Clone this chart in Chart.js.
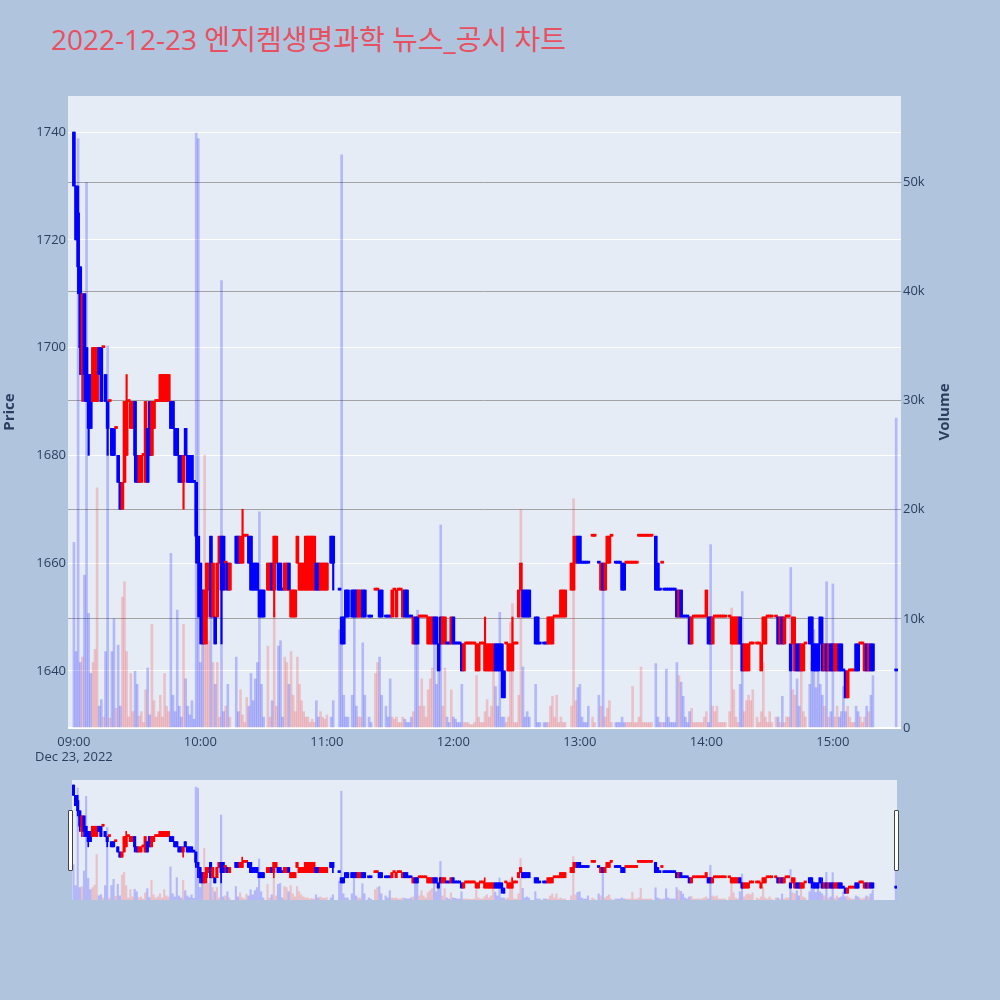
<!DOCTYPE html>
<html>
<head>
<meta charset="utf-8">
<script src="https://cdn.jsdelivr.net/npm/chart.js@4.4.0/dist/chart.umd.min.js"></script>
<style>
  body { margin: 0; background: #b0c4de; width: 1000px; height: 1000px; position: relative; overflow: hidden;
         font-family: "Open Sans", "Noto Sans CJK KR", sans-serif; }
  #title { position: absolute; left: 51px; top: 23px; font-size: 28px; line-height: 32px; color: #e85060; white-space: nowrap; }
  #main { position: absolute; left: 0; top: 0; }
  #slider { position: absolute; left: 72px; top: 780px; }
  .handle { position: absolute; top: 810px; width: 3px; height: 59px; background: #fff; border: 1px solid #444; border-radius: 1px; }
</style>
</head>
<body>
<div id="title">2022-12-23 엔지켐생명과학 뉴스_공시 차트</div>
<canvas id="main" width="957" height="775"></canvas>
<canvas id="slider" width="825" height="120"></canvas>
<div class="handle" style="left:68px"></div>
<div class="handle" style="left:894px"></div>
<script>
// one entry per minute from 09:00 (index 0) to 15:30 (index 390); null = no trade
const opens = [
  1740,1730,1725,1715,1695,1710,1700,1695,1695,1690, // 0
  1695,1690,1700,1700,1700,1695,1690,1690,1685,1685,
  1685,1680,1675,1670,1675,1680,1690,1685,1685,1690,
  1680,1675,1675,1680,1675,1685,1690,1680,1685,1690,
  1690,1690,1690,1690,1690,1690,1690,1690,1685,1685,
  1680,1680,1675,1685,1680,1680,1680,1675,1675,1665,
  1660,1655,1645,1650,1655,1665,1650,1650,1650,1660, // 60
  1665,1665,1660,1660,1655,null,null,1665,1665,1660,
  1660,1665,1665,1665,1665,1660,1660,1660,1655,1655,
  1655,null,1655,1655,1660,1655,1660,1660,1660,1655,
  1655,1655,1660,1650,1650,1650,1660,1655,1655,1655,
  1655,1655,1655,1655,1655,1660,1660,1655,1655,1655,
  1655,null,1665,1665,null,null,1655,1650,1650,1655, // 120
  1655,null,1655,1655,1655,1650,1650,1655,1655,null,
  1650,1650,null,1655,1655,1655,1655,null,1650,1650,
  1650,1650,1655,1650,1655,1655,1650,1655,1655,1650,
  1650,1645,1650,1650,1650,1650,1650,1650,1645,1645,
  1645,1650,1650,1645,1650,1645,1645,1645,1645,1645,
  1650,1645,1645,1645,1645,1640,1645,1645,1645,1645, // 180
  1645,1640,1640,1645,1645,1640,1640,1640,1640,1640,
  1645,1645,1645,1645,1640,1645,1640,1640,1640,1645,
  1645,1650,1655,1655,1655,1655,1655,null,null,1650,
  1650,1645,null,1645,1645,1645,1645,1645,1650,1650,
  1650,1650,1650,1650,null,null,1655,1655,1660,1665,
  1665,1660,1660,1660,1660,null,1665,1665,null,1660, // 240
  1655,1660,1655,1660,1660,1665,null,1660,1660,1660,
  1660,1660,1660,1660,1660,1660,1660,1660,1665,1665,
  1665,1665,1665,1665,1665,null,1665,1660,1655,1660,
  1655,1655,1655,1655,1655,1655,1655,1650,1655,1650,
  1650,1650,1650,1645,1650,1650,1650,1650,1650,1650,
  1650,1650,1650,1645,1650,1650,1650,1650,1650,1650, // 300
  null,1650,1645,1645,1645,1645,1650,1645,1640,1640,
  1640,1645,1645,null,1645,1645,1640,1645,1645,1650,
  1650,1650,null,1650,1650,1645,1650,1645,1650,1650,
  1645,1645,1640,1645,1645,1640,1640,1645,null,1650,
  1650,1645,1645,1645,1650,1645,1640,1645,1640,1645,
  1645,1640,1640,1645,1645,1640,1640,1635,1640,1640, // 360
  1640,1645,1645,1645,1645,1640,1645,1640,1645,1645,
  null,null,null,null,null,null,null,null,null,null,
  1640
];
const highs = [
  1740,1730,1730,1715,1710,1710,1700,1695,1695,1700,
  1700,1700,1700,1700,1700,1695,1690,1690,1685,1685,
  1685,1680,1675,1675,1690,1695,1690,1690,1690,1690,
  1680,1680,1680,1680,1690,1685,1690,1690,1690,1690,
  1690,1695,1695,1695,1695,1695,1690,1690,1685,1685,
  1680,1680,1680,1685,1680,1680,1680,1675,1675,1665,
  1660,1655,1655,1660,1660,1665,1660,1650,1660,1665,
  1665,1665,1660,1660,1660,null,null,1665,1665,1665,
  1670,1665,1665,1665,1665,1660,1660,1660,1655,1655,
  1655,null,1660,1660,1660,1665,1665,1660,1660,1655,
  1660,1660,1660,1655,1655,1655,1665,1660,1660,1660,
  1665,1665,1665,1665,1665,1660,1660,1660,1660,1660,
  1660,null,1665,1665,null,null,1655,1650,1650,1655,
  1655,null,1655,1655,1655,1655,1655,1655,1655,null,
  1650,1650,null,1655,1655,1655,1655,null,1650,1650,
  1650,1655,1655,1655,1655,1655,1655,1655,1655,1650,
  1650,1650,1650,1650,1650,1650,1650,1650,1650,1650,
  1650,1650,1650,1645,1650,1650,1650,1645,1645,1650,
  1650,1645,1645,1645,1645,1645,1645,1645,1645,1645,
  1645,1645,1645,1645,1645,1650,1645,1645,1645,1645,
  1645,1645,1645,1645,1640,1645,1645,1645,1650,1645,
  1645,1655,1660,1655,1655,1655,1655,null,null,1650,
  1650,1645,null,1645,1645,1650,1650,1650,1650,1650,
  1650,1655,1655,1655,null,null,1660,1665,1665,1665,
  1665,1660,1660,1660,1660,null,1665,1665,null,1660,
  1660,1660,1660,1665,1665,1665,null,1660,1660,1660,
  1660,1660,1660,1660,1660,1660,1660,1660,1665,1665,
  1665,1665,1665,1665,1665,null,1665,1660,1655,1660,
  1655,1655,1655,1655,1655,1655,1655,1655,1655,1650,
  1650,1650,1650,1650,1650,1650,1650,1650,1650,1650,
  1655,1650,1650,1650,1650,1650,1650,1650,1650,1650,
  null,1650,1650,1650,1650,1650,1650,1645,1645,1645,
  1645,1645,1645,null,1645,1645,1645,1650,1650,1650,
  1650,1650,null,1650,1650,1650,1650,1650,1650,1650,
  1645,1650,1650,1645,1645,1645,1645,1645,null,1650,
  1650,1645,1645,1645,1650,1650,1645,1645,1645,1645,
  1645,1645,1645,1645,1645,1640,1640,1640,1640,1640,
  1640,1645,1645,1645,1645,1645,1645,1645,1645,1645,
  null,null,null,null,null,null,null,null,null,null,
  1640
];
const lows = [
  1730,1720,1710,1695,1690,1690,1690,1680,1685,1690,
  1690,1690,1695,1690,1700,1690,1680,1690,1680,1680,
  1685,1675,1670,1670,1675,1680,1690,1685,1685,1675,
  1675,1675,1675,1680,1675,1675,1680,1680,1685,1690,
  1690,1690,1690,1690,1690,1690,1685,1685,1680,1680,
  1675,1675,1670,1680,1675,1675,1675,1675,1660,1650,
  1645,1645,1645,1645,1655,1650,1650,1645,1650,1660,
  1645,1655,1655,1655,1655,null,null,1660,1660,1660,
  1660,1665,1665,1660,1655,1655,1655,1655,1650,1650,
  1650,null,1655,1655,1655,1650,1660,1655,1655,1655,
  1655,1655,1655,1650,1650,1650,1660,1655,1655,1655,
  1655,1655,1655,1655,1655,1655,1655,1655,1655,1655,
  1655,null,1660,1655,null,null,1655,1645,1645,1650,
  1650,null,1650,1650,1650,1650,1650,1650,1650,null,
  1650,1650,null,1655,1655,1650,1650,null,1650,1650,
  1650,1650,1655,1650,1655,1655,1650,1650,1650,1650,
  1650,1645,1645,1645,1650,1650,1650,1650,1645,1645,
  1645,1645,1645,1640,1645,1645,1645,1645,1645,1645,
  1645,1645,1645,1645,1640,1640,1645,1645,1645,1645,
  1645,1640,1640,1645,1645,1640,1640,1640,1640,1640,
  1640,1640,1640,1635,1635,1645,1640,1640,1640,1645,
  1645,1650,1655,1650,1650,1650,1650,null,null,1645,
  1645,1645,null,1645,1645,1645,1645,1645,1650,1650,
  1650,1650,1650,1650,null,null,1655,1655,1660,1660,
  1660,1660,1660,1660,1660,null,1665,1665,null,1660,
  1655,1655,1655,1660,1660,1665,null,1660,1660,1660,
  1655,1655,1660,1660,1660,1660,1660,1660,1665,1665,
  1665,1665,1665,1665,1665,null,1655,1655,1655,1660,
  1655,1655,1655,1655,1655,1655,1650,1650,1650,1650,
  1650,1650,1645,1645,1650,1650,1650,1650,1650,1650,
  1650,1645,1645,1645,1650,1650,1650,1650,1650,1650,
  null,1650,1645,1645,1645,1645,1645,1640,1640,1640,
  1640,1645,1645,null,1645,1645,1640,1645,1645,1650,
  1650,1650,null,1650,1645,1645,1645,1645,1650,1650,
  1640,1645,1640,1640,1640,1640,1640,1645,null,1645,
  1640,1640,1640,1640,1645,1640,1640,1640,1640,1640,
  1640,1640,1640,1640,1640,1640,1635,1635,1640,1640,
  1640,1640,1640,1645,1645,1640,1640,1640,1640,1640,
  null,null,null,null,null,null,null,null,null,null,
  1640
];
const closes = [
  1730,1720,1715,1700,1710,1695,1690,1685,1685,1700,
  1700,1700,1695,1690,1700,1690,1685,1690,1680,1680,
  1685,1675,1670,1675,1690,1690,1690,1690,1690,1680,
  1675,1680,1680,1680,1690,1675,1680,1690,1690,1690,
  1690,1695,1695,1695,1695,1695,1685,1685,1680,1680,
  1675,1675,1680,1680,1675,1675,1675,1675,1665,1660,
  1650,1645,1655,1660,1660,1650,1660,1645,1660,1665,
  1655,1655,1660,1655,1660,null,null,1660,1660,1665,
  1665,1665,1665,1660,1655,1655,1655,1655,1650,1650,
  1650,null,1660,1660,1655,1665,1665,1655,1655,1655,
  1660,1660,1655,1655,1655,1655,1665,1660,1660,1660,
  1665,1665,1665,1665,1665,1655,1655,1660,1660,1660,
  1660,null,1660,1660,null,null,1655,1645,1645,1650,
  1650,null,1650,1650,1650,1655,1655,1650,1650,null,
  1650,1650,null,1655,1655,1650,1650,null,1650,1650,
  1650,1655,1655,1655,1655,1655,1655,1650,1650,1650,
  1650,1650,1645,1645,1650,1650,1650,1650,1650,1650,
  1650,1645,1645,1640,1645,1650,1650,1645,1645,1650,
  1645,1645,1645,1645,1640,1645,1645,1645,1645,1645,
  1645,1645,1645,1645,1645,1645,1645,1645,1645,1645,
  1640,1640,1640,1640,1635,1645,1645,1645,1645,1645,
  1645,1655,1660,1650,1650,1650,1650,null,null,1645,
  1645,1645,null,1645,1645,1650,1650,1650,1650,1650,
  1650,1655,1655,1655,null,null,1660,1660,1665,1660,
  1660,1660,1660,1660,1660,null,1665,1665,null,1660,
  1660,1655,1660,1665,1665,1665,null,1660,1660,1660,
  1655,1655,1660,1660,1660,1660,1660,1660,1665,1665,
  1665,1665,1665,1665,1665,null,1655,1655,1655,1660,
  1655,1655,1655,1655,1655,1655,1650,1655,1650,1650,
  1650,1650,1645,1650,1650,1650,1650,1650,1650,1650,
  1655,1645,1645,1650,1650,1650,1650,1650,1650,1650,
  null,1650,1650,1650,1650,1650,1645,1640,1645,1645,
  1645,1645,1645,null,1645,1645,1645,1650,1650,1650,
  1650,1650,null,1650,1645,1650,1645,1650,1650,1650,
  1640,1650,1645,1640,1640,1645,1645,1645,null,1645,
  1645,1640,1640,1640,1645,1640,1645,1640,1645,1640,
  1640,1645,1645,1640,1640,1640,1635,1640,1640,1640,
  1640,1640,1640,1645,1645,1645,1640,1645,1640,1640,
  null,null,null,null,null,null,null,null,null,null,
  1640
];
const volumes = [
  17000,7000,54000,6000,6500,14000,50000,10500,5000,6000,
  7200,22000,2000,2600,1000,7000,35000,900,7000,10000,
  1800,7600,2000,12000,13400,7000,1000,5000,1500,5200,
  4000,1100,1500,500,3500,5500,1200,9500,2500,1000,
  1500,3000,1000,5000,2000,1500,16000,3000,1500,10800,
  2000,1000,9500,4500,2000,1200,2500,800,54500,54000,
  6000,8700,25000,9000,8000,17000,6000,4000,6000,1000,
  41000,1500,2000,4000,1000,null,null,6500,1500,3500,
  1200,500,2800,2000,5000,2500,4500,6000,19800,4000,
  1000,null,7500,1000,2500,10600,2000,7500,8000,1000,
  6500,6000,4000,7000,3000,1500,6500,4000,2500,1500,
  1000,1000,500,800,500,2500,1000,1500,1000,800,
  1200,null,1000,2500,null,null,9000,52500,3000,1000,
  1000,null,3000,10400,2000,1000,1000,7800,3000,null,
  1000,500,null,5000,6000,6500,3000,null,2000,1000,
  4500,1000,800,1000,500,500,1000,800,500,500,
  1000,1500,8200,10800,2000,4500,2000,1000,3500,4500,
  5500,8500,4000,6000,18600,2000,5500,1000,500,3500,
  1000,800,500,500,4000,500,500,500,300,300,
  500,4800,1000,500,500,1500,2600,1000,2000,6400,
  3800,2000,10600,1000,1000,500,1000,9700,11400,500,
  500,3000,20000,5600,1000,1500,1000,null,null,4000,
  500,500,null,500,500,500,2000,2900,1000,3000,
  500,1000,500,500,null,null,2000,21000,2500,3700,
  4000,1000,500,500,2000,null,1000,500,null,3000,
  2000,13900,1000,1800,2500,500,null,500,500,500,
  1000,500,500,500,500,3800,500,500,1000,5600,
  500,500,500,500,500,null,5900,1000,500,500,
  500,5400,1000,500,500,500,6000,4800,4200,2900,
  1000,500,1500,1800,500,500,500,500,500,1000,
  1500,500,16800,2000,1500,2000,500,500,500,500,
  null,1500,11000,3500,1000,500,4000,12500,1500,2500,
  3000,2500,3500,null,1000,500,1500,6000,1000,500,
  1500,500,null,1000,1000,500,2900,500,1000,1000,
  14700,3500,3000,4500,2000,6400,1500,1000,null,4000,
  6000,9000,3700,7300,4000,3000,2000,13400,1000,1500,
  13200,1000,2000,1000,1500,3800,1500,2000,1000,500,
  500,2000,1500,1000,500,1000,2000,1500,3000,4800,
  null,null,null,null,null,null,null,null,null,null,
  28400
];
const hourTicks = [0, 60, 120, 180, 240, 300, 360];
const hourLabels = ["09:00", "10:00", "11:00", "12:00", "13:00", "14:00", "15:00"];
const dateLabel = "Dec 23, 2022";
const priceTicks = [1640, 1660, 1680, 1700, 1720, 1740];
const volumeTicks = [0, 10000, 20000, 30000, 40000, 50000];

const UP = "#ff0000", DOWN = "#0000ff";
const UP_VOL = "rgba(255,0,0,0.18)", DOWN_VOL = "rgba(0,0,255,0.22)";

// candle direction: close vs open, dojis follow the previous close
const isUp = [];
let prevClose = null, prevUp = true;
for (let i = 0; i < opens.length; i++) {
  if (opens[i] == null) { isUp.push(null); continue; }
  let u;
  if (closes[i] > opens[i]) u = true;
  else if (closes[i] < opens[i]) u = false;
  else if (prevClose != null && closes[i] > prevClose) u = true;
  else if (prevClose != null && closes[i] < prevClose) u = false;
  else u = prevUp;
  isUp.push(u);
  prevClose = closes[i];
  prevUp = u;
}

function makeSets(bodyW, wickW, volW) {
  const wick = [], body = [], vol = [], wickC = [], volC = [];
  for (let i = 0; i < opens.length; i++) {
    if (opens[i] == null) continue;
    wick.push({ x: i, y: [lows[i], highs[i]] });
    body.push({ x: i, y: [opens[i], closes[i]] });
    wickC.push(isUp[i] ? UP : DOWN);
    if (volumes[i] != null) {
      vol.push({ x: i, y: volumes[i] });
      volC.push(isUp[i] ? UP_VOL : DOWN_VOL);
    }
  }
  return [
    { label: "body", data: body, backgroundColor: wickC, barThickness: bodyW, minBarLength: 2,
      grouped: false, yAxisID: "y", order: 1 },
    { label: "wick", data: wick, backgroundColor: wickC, barThickness: wickW,
      grouped: false, yAxisID: "y", order: 2 },
    { label: "volume", data: vol, backgroundColor: volC, barThickness: volW,
      grouped: false, yAxisID: "y1", order: 3 }
  ];
}

const plotBg = {
  id: "plotBg",
  beforeDraw(chart) {
    const { ctx, chartArea: a } = chart;
    ctx.save();
    ctx.fillStyle = "#e5ecf6";
    ctx.fillRect(a.left, a.top, a.right - a.left, a.bottom - a.top);
    ctx.restore();
  }
};

const volumeTitle = {
  id: "volumeTitle",
  afterDraw(chart) {
    const ctx = chart.ctx;
    ctx.save();
    ctx.translate(945, 412);
    ctx.rotate(-Math.PI / 2);
    ctx.font = "bold 15px 'Open Sans', sans-serif";
    ctx.fillStyle = "#2a3f5f";
    ctx.textAlign = "center";
    ctx.textBaseline = "middle";
    ctx.fillText("Volume", 0, 0);
    ctx.restore();
  }
};

Chart.defaults.font.family = "'Open Sans', 'Noto Sans CJK KR', sans-serif";
Chart.defaults.font.size = 13;
Chart.defaults.color = "#2a3f5f";

new Chart(document.getElementById("main"), {
  type: "bar",
  data: { datasets: makeSets(3, 1.5, 2) },
  options: {
    responsive: false,
    animation: false,
    layout: { padding: { top: 96, left: 0, right: 0, bottom: 0 } },
    plugins: { legend: { display: false }, tooltip: { enabled: false } },
    scales: {
      x: {
        type: "linear", min: -2.8, max: 392.3, offset: false,
        grid: { display: false, drawTicks: false },
        border: { display: false },
        ticks: {
          padding: 6, maxRotation: 0, autoSkip: false,
          callback: (v, i) => (i === 0 ? [hourLabels[0], dateLabel] : hourLabels[i])
        },
        afterBuildTicks: (s) => { s.ticks = hourTicks.map((v) => ({ value: v })); },
        afterFit: (s) => { s.height = 47; }
      },
      y: {
        position: "left", min: 1629.4, max: 1746.7,
        grid: { color: "#ffffff", lineWidth: 1, drawTicks: false },
        border: { display: false },
        ticks: { padding: 2, callback: (v) => String(v) },
        title: { display: true, text: "Price", font: { size: 15, weight: "bold" }, padding: { top: 1, bottom: 0 } },
        afterBuildTicks: (s) => { s.ticks = priceTicks.map((v) => ({ value: v })); },
        afterFit: (s) => { s.width = 68; }
      },
      y1: {
        position: "right", min: 0, max: 57900,
        grid: {
          drawTicks: false,
          color: (c) => (c.tick && c.tick.value === 0 ? "#ffffff" : "#a3a3a3"),
          lineWidth: (c) => (c.tick && c.tick.value === 0 ? 2 : 1)
        },
        border: { display: false },
        ticks: { padding: 2, callback: (v) => (v === 0 ? "0" : v / 1000 + "k") },
        afterBuildTicks: (s) => { s.ticks = volumeTicks.map((v) => ({ value: v })); },
        afterFit: (s) => { s.width = 56; }
      }
    }
  },
  plugins: [plotBg, volumeTitle]
});

// range slider: the whole session in miniature
new Chart(document.getElementById("slider"), {
  type: "bar",
  data: { datasets: makeSets(2.5, 1, 1.5) },
  options: {
    responsive: false,
    animation: false,
    layout: { padding: 0 },
    plugins: { legend: { display: false }, tooltip: { enabled: false } },
    scales: {
      x: { type: "linear", min: -0.7, max: 390.5, offset: false, display: false },
      y: { min: 1628.4, max: 1744.9, display: false },
      y1: { min: 0, max: 57900, display: false }
    }
  },
  plugins: [plotBg]
});
</script>
</body>
</html>
